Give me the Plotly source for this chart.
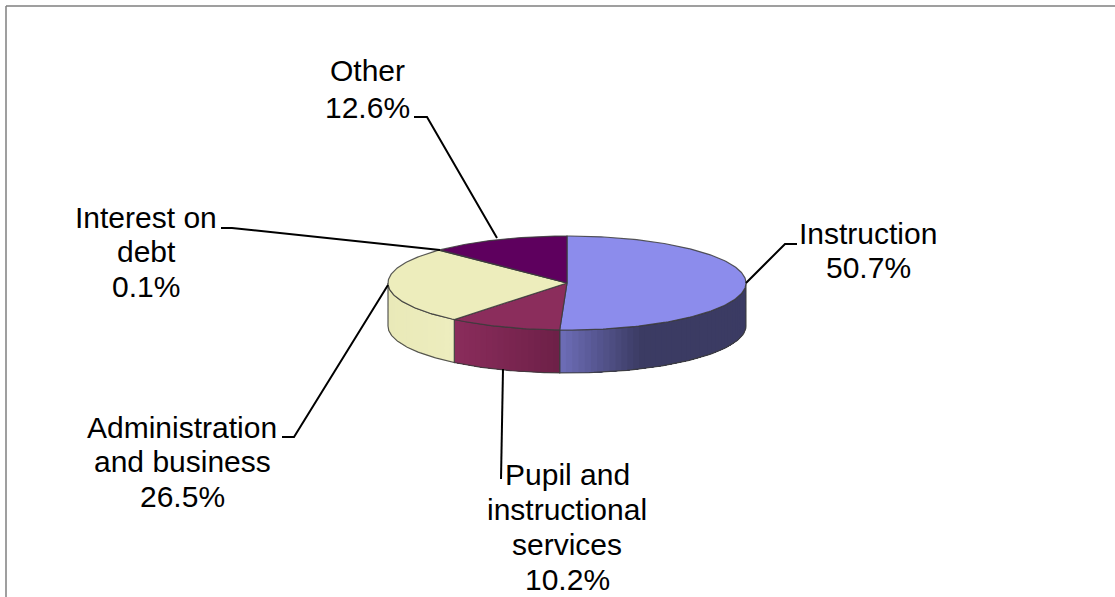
import numpy as np
import plotly.graph_objects as go

categories = ["Instruction", "Pupil and instructional services", "Administration and business", "Interest on debt", "Other"]
label_lines = [["Instruction", "50.7%"], ["Pupil and", "instructional", "services", "10.2%"],
               ["Administration", "and business", "26.5%"], ["Interest on", "debt", "0.1%"], ["Other", "12.6%"]]
values = [50.7, 10.2, 26.5, 0.1, 12.6]
top_colors = ["#8C8CEC", "#8B2D5C", "#EDEDBC", "#7A1F6A", "#5E005E"]
side_left = ["#7070BC", "#8B2D5C", "#E9E9B8", "#7A1F6A", "#5E005E"]
side_right = ["#3B3B63", "#6E2048", "#EDEDBE", "#7A1F6A", "#5E005E"]
gradient_stop = [0.45, 1.0, 1.0, 1.0, 1.0]
label_x = [868, 567, 182, 146, 367]
label_y = [233, 474, 427, 217, 70]
line_step = [34, 35, 34.5, 34.5, 37]
leader_x = [[746, 785, 797], [503, 501], [388, 294, 282], [440, 232, 221], [497, 427, 414]]
leader_y = [[283, 244, 244], [369, 479], [285, 437, 437], [250, 228, 228], [238, 117, 117]]

CX, CY, RX, RY, DEPTH = 567, 283, 179, 47, 43
OUTLINE = "rgba(60,60,60,0.85)"


def hex_rgb(h):
    return np.array([int(h[i:i + 2], 16) for i in (1, 3, 5)], dtype=float)


def point(theta, dy=0.0):
    return CX + RX * np.sin(theta), CY - RY * np.cos(theta) + dy


fig = go.Figure()
fractions = np.cumsum([0] + values) / sum(values) * 2 * np.pi

# Side walls (front half only); each strip runs to the slice's far end so later strips paint over without seams
for i, (a, b) in enumerate(zip(fractions[:-1], fractions[1:])):
    lo, hi = max(a, np.pi / 2), min(b, 3 * np.pi / 2)
    if hi <= lo:
        continue
    n = max(2, int((hi - lo) / np.radians(2)))
    edges = np.linspace(lo, hi, n + 1)
    x0, _ = point(lo)
    x1, _ = point(hi)
    xl, xr = min(x0, x1), max(x0, x1)
    for t0 in edges[:-1]:
        ts = np.linspace(t0, hi, 40)
        xt, yt = point(ts)
        xb, yb = point(ts[::-1], DEPTH)
        # gradient runs left to right on screen
        mid = (point(t0)[0] - xl) / max(xr - xl, 1)
        mid = min(mid / gradient_stop[i], 1.0)
        c = hex_rgb(side_left[i]) * (1 - mid) + hex_rgb(side_right[i]) * mid
        col = f"rgb({c[0]:.0f},{c[1]:.0f},{c[2]:.0f})"
        fig.add_trace(go.Scatter(x=list(xt) + list(xb), y=list(yt) + list(yb), mode="lines",
                                 fill="toself", fillcolor=col, line=dict(width=0),
                                 hoverinfo="skip", showlegend=False))
    ts = np.linspace(lo, hi, 60)
    xt, yt = point(ts)
    xb, yb = point(ts[::-1], DEPTH)
    fig.add_trace(go.Scatter(x=list(xt) + list(xb) + [xt[0]], y=list(yt) + list(yb) + [yt[0]], mode="lines",
                             line=dict(color=OUTLINE, width=1.2), hoverinfo="skip", showlegend=False))

# Top face
for i, (a, b) in enumerate(zip(fractions[:-1], fractions[1:])):
    ts = np.linspace(a, b, max(3, int((b - a) / np.radians(1)) + 2))
    xt, yt = point(ts)
    fig.add_trace(go.Scatter(x=[CX] + list(xt) + [CX], y=[CY] + list(yt) + [CY], mode="lines",
                             fill="toself", fillcolor=top_colors[i], line=dict(color=OUTLINE, width=1.2),
                             name=categories[i], hoverinfo="skip", showlegend=False))

# Leader lines
for lx, ly in zip(leader_x, leader_y):
    fig.add_trace(go.Scatter(x=lx, y=ly, mode="lines", line=dict(color="#000000", width=2),
                             hoverinfo="skip", showlegend=False))

# Labels, one annotation per line to hold the reference's tight line spacing
for lines, x, y, step in zip(label_lines, label_x, label_y, line_step):
    for k, t in enumerate(lines):
        fig.add_annotation(x=x, y=y + k * step, text=t, showarrow=False, xanchor="center", yanchor="middle",
                           font=dict(family="Liberation Sans, Arial, sans-serif", size=30, color="#000000"))

# Chart-area border, clipped by the picture on the right and bottom
fig.add_shape(type="line", x0=6, x1=1115, y0=6, y1=6, line=dict(color="#7f7f7f", width=1.5))
fig.add_shape(type="line", x0=6, x1=6, y0=6, y1=597, line=dict(color="#7f7f7f", width=1.5))

fig.update_layout(width=1115, height=597, margin=dict(l=0, r=0, t=0, b=0), paper_bgcolor="white",
                  plot_bgcolor="white", showlegend=False,
                  xaxis=dict(range=[0, 1115], visible=False, fixedrange=True),
                  yaxis=dict(range=[597, 0], visible=False, fixedrange=True))
fig.write_html("out.html", config=dict(displayModeBar=False),
               post_script="document.body.style.margin='0';document.documentElement.style.overflow='hidden';")
